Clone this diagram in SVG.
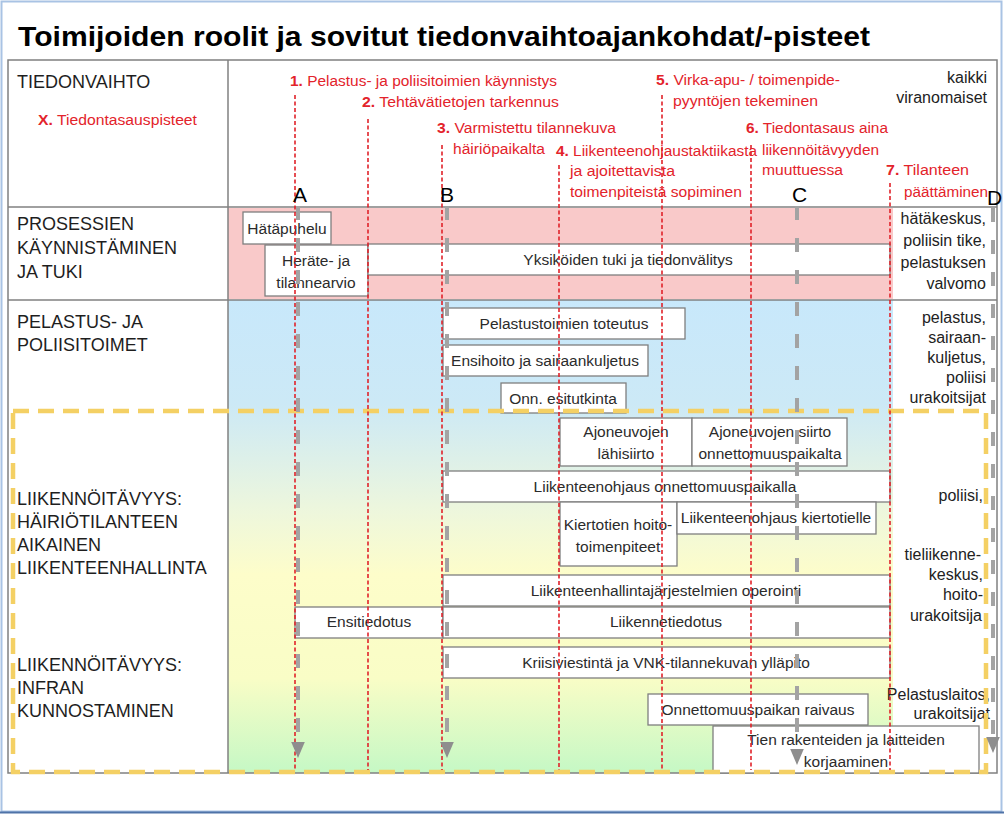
<svg xmlns="http://www.w3.org/2000/svg" width="1004" height="815" viewBox="0 0 1004 815">
<style>
text{font-family:"Liberation Sans",Arial,sans-serif}
.title{font-size:27px;font-weight:bold;fill:#000}
.lane{font-size:18px;fill:#1e1e1e}
.red{font-size:15.5px;fill:#e3232b}
.red tspan.n{font-weight:bold}
.box{fill:#fff;stroke:#7f7f7f;stroke-width:1.3}
.bt{font-size:15.5px;fill:#2b2b2b;text-anchor:middle}
.rt{font-size:16px;fill:#222;text-anchor:end}
.mil{stroke:#e0222a;stroke-width:1.6;stroke-dasharray:4 2.5;fill:none}
.gray{stroke:#a3a3a3;stroke-width:4;stroke-dasharray:14 18;fill:none}
.let{font-size:21px;fill:#000}
.grid{stroke:#808080;stroke-width:1.5;fill:none}
</style>
<defs>
<linearGradient id="bg" x1="0" y1="0" x2="0" y2="1">
<stop offset="0" stop-color="#c8e8fb"/>
<stop offset="0.22" stop-color="#cce9f6"/>
<stop offset="0.45" stop-color="#eef7dc"/>
<stop offset="0.58" stop-color="#fdfdca"/>
<stop offset="0.8" stop-color="#f9fdc6"/>
<stop offset="1" stop-color="#c5f8c5"/>
</linearGradient>
<marker id="ah" markerWidth="4" markerHeight="4" refX="2" refY="2" orient="auto" markerUnits="strokeWidth" viewBox="0 0 4 4">
<path d="M0,0.3 L4,2 L0,3.7 Z" fill="#8e8e8e"/>
</marker>
</defs>
<rect x="0" y="0" width="1004" height="815" fill="#fff"/>
<rect x="1.5" y="1.5" width="1000" height="810" fill="none" stroke="#a9c3e4" stroke-width="2"/>
<line x1="0" y1="812.5" x2="1004" y2="812.5" stroke="#4f73a8" stroke-width="2"/>

<text class="title" x="18" y="46" textLength="852" lengthAdjust="spacingAndGlyphs">Toimijoiden roolit ja sovitut tiedonvaihtoajankohdat/-pisteet</text>

<!-- backgrounds -->
<rect x="228" y="208" width="665" height="91" fill="#f9c9c9"/>
<rect x="228" y="300" width="665" height="473" fill="url(#bg)"/>

<!-- table grid -->
<g id="grid">
<rect class="grid" x="8" y="60" width="989" height="713"/>
<line class="grid" x1="228" y1="60" x2="228" y2="773"/>
<line class="grid" x1="8" y1="207" x2="997" y2="207"/>
<line class="grid" x1="8" y1="300" x2="997" y2="300"/>
</g>

<!-- lane labels -->
<g id="lane-tiedonvaihto">
<text class="lane" x="17" y="88">TIEDONVAIHTO</text>
<text class="red" x="38" y="125" textLength="159" lengthAdjust="spacingAndGlyphs"><tspan class="n">X.</tspan> Tiedontasauspisteet</text>
</g>
<g id="lane-prosessien">
<text class="lane" x="17" y="230">PROSESSIEN</text>
<text class="lane" x="17" y="254">KÄYNNISTÄMINEN</text>
<text class="lane" x="17" y="278">JA TUKI</text>
</g>
<g id="lane-pelastus">
<text class="lane" x="17" y="328">PELASTUS- JA</text>
<text class="lane" x="17" y="351">POLIISITOIMET</text>
</g>
<g id="lane-hairio">
<text class="lane" x="17" y="505">LIIKENNÖITÄVYYS:</text>
<text class="lane" x="17" y="528">HÄIRIÖTILANTEEN</text>
<text class="lane" x="17" y="551">AIKAINEN</text>
<text class="lane" x="17" y="574">LIIKENTEENHALLINTA</text>
</g>
<g id="lane-infra">
<text class="lane" x="17" y="671">LIIKENNÖITÄVYYS:</text>
<text class="lane" x="17" y="694">INFRAN</text>
<text class="lane" x="17" y="717">KUNNOSTAMINEN</text>
</g>

<!-- actor labels -->
<g id="actors">
<text class="rt" x="987" y="83">kaikki</text>
<text class="rt" x="987" y="103">viranomaiset</text>
<text class="rt" x="986" y="224">hätäkeskus,</text>
<text class="rt" x="986" y="246">poliisin tike,</text>
<text class="rt" x="986" y="268">pelastuksen</text>
<text class="rt" x="986" y="289">valvomo</text>
<text class="rt" x="986" y="323">pelastus,</text>
<text class="rt" x="986" y="343">sairaan-</text>
<text class="rt" x="986" y="363">kuljetus,</text>
<text class="rt" x="986" y="383">poliisi</text>
<text class="rt" x="986" y="403">urakoitsijat</text>
<text class="rt" x="983" y="501">poliisi,</text>
<text class="rt" x="981" y="560">tieliikenne-</text>
<text class="rt" x="983" y="580">keskus,</text>
<text class="rt" x="983" y="600">hoito-</text>
<text class="rt" x="982" y="621">urakoitsija</text>
<text class="rt" x="990" y="700">Pelastuslaitos,</text>
<text class="rt" x="990" y="719">urakoitsijat</text>
</g>

<!-- milestone labels -->
<g id="milestones">
<text class="red" x="290" y="86" textLength="267" lengthAdjust="spacingAndGlyphs"><tspan class="n">1.</tspan> Pelastus- ja poliisitoimien käynnistys</text>
<text class="red" x="362" y="107" textLength="197" lengthAdjust="spacingAndGlyphs"><tspan class="n">2.</tspan> Tehtävätietojen tarkennus</text>
<text class="red" x="437" y="133" textLength="179" lengthAdjust="spacingAndGlyphs"><tspan class="n">3.</tspan> Varmistettu tilannekuva</text>
<text class="red" x="453" y="154" textLength="92" lengthAdjust="spacingAndGlyphs">häiriöpaikalta</text>
<text class="red" x="556" y="156" textLength="201" lengthAdjust="spacingAndGlyphs"><tspan class="n">4.</tspan> Liikenteenohjaustaktiikasta</text>
<text class="red" x="570" y="176" textLength="105" lengthAdjust="spacingAndGlyphs">ja ajoitettavista</text>
<text class="red" x="570" y="197" textLength="172" lengthAdjust="spacingAndGlyphs">toimenpiteistä sopiminen</text>
<text class="red" x="656" y="85" textLength="184" lengthAdjust="spacingAndGlyphs"><tspan class="n">5.</tspan> Virka-apu- / toimenpide-</text>
<text class="red" x="673" y="106" textLength="145" lengthAdjust="spacingAndGlyphs">pyyntöjen tekeminen</text>
<text class="red" x="746" y="133" textLength="142" lengthAdjust="spacingAndGlyphs"><tspan class="n">6.</tspan> Tiedontasaus aina</text>
<text class="red" x="762" y="155" textLength="117" lengthAdjust="spacingAndGlyphs">liikennöitävyyden</text>
<text class="red" x="762" y="175" textLength="81" lengthAdjust="spacingAndGlyphs">muuttuessa</text>
<text class="red" x="886" y="175" textLength="83" lengthAdjust="spacingAndGlyphs"><tspan class="n">7.</tspan> Tilanteen</text>
<text class="red" x="904" y="197" textLength="84" lengthAdjust="spacingAndGlyphs">päättäminen</text>
</g>

<!-- task boxes -->
<g id="hatapuhelu"><rect class="box" x="243" y="212" width="88" height="32"/><text class="bt" x="287" y="234">Hätäpuhelu</text></g>
<g id="herate"><rect class="box" x="265" y="245" width="103" height="51"/><text class="bt" x="316" y="266">Heräte- ja</text><text class="bt" x="316" y="288">tilannearvio</text></g>
<g id="yksikoiden-tuki"><rect class="box" x="368" y="244" width="522" height="31"/><text class="bt" x="628" y="265">Yksiköiden tuki ja tiedonvälitys</text></g>
<g id="pelastustoimien"><rect class="box" x="443" y="308" width="242" height="31"/><text class="bt" x="564" y="329">Pelastustoimien toteutus</text></g>
<g id="ensihoito"><rect class="box" x="443" y="345" width="205" height="31"/><text class="bt" x="545" y="366">Ensihoito ja sairaankuljetus</text></g>
<g id="esitutkinta"><rect class="box" x="501" y="383" width="125" height="30"/><text class="bt" x="563" y="404">Onn. esitutkinta</text></g>
<g id="lahisiirto"><rect class="box" x="560" y="418" width="132" height="48"/><text class="bt" x="626" y="437">Ajoneuvojen</text><text class="bt" x="626" y="459">lähisiirto</text></g>
<g id="siirto"><rect class="box" x="692" y="418" width="155" height="48"/><text class="bt" x="770" y="437">Ajoneuvojen siirto</text><text class="bt" x="770" y="459">onnettomuuspaikalta</text></g>
<g id="ohjaus-onn"><rect class="box" x="443" y="471" width="447" height="31"/><text class="bt" x="665" y="492">Liikenteenohjaus onnettomuuspaikalla</text></g>
<g id="kiertotien-hoito"><rect class="box" x="560" y="502" width="117" height="64"/><text class="bt" x="618" y="530">Kiertotien hoito-</text><text class="bt" x="618" y="552">toimenpiteet</text></g>
<g id="ohjaus-kierto"><rect class="box" x="677" y="502" width="199" height="32"/><text class="bt" x="776" y="523">Liikenteenohjaus kiertotielle</text></g>
<g id="operointi"><rect class="box" x="443" y="575" width="447" height="31"/><text class="bt" x="666" y="596">Liikenteenhallintajärjestelmien operointi</text></g>
<g id="ensitiedotus"><rect class="box" x="295" y="607" width="148" height="31"/><text class="bt" x="369" y="627">Ensitiedotus</text></g>
<g id="liikennetiedotus"><rect class="box" x="443" y="607" width="447" height="31"/><text class="bt" x="666" y="627">Liikennetiedotus</text></g>
<g id="kriisiviestinta"><rect class="box" x="443" y="647" width="447" height="31"/><text class="bt" x="666" y="668">Kriisiviestintä ja VNK-tilannekuvan ylläpito</text></g>
<g id="raivaus"><rect class="box" x="648" y="694" width="220" height="31"/><text class="bt" x="758" y="715">Onnettomuuspaikan raivaus</text></g>
<g id="korjaaminen"><rect class="box" x="713" y="726" width="266" height="47"/><text class="bt" x="846" y="745">Tien rakenteiden ja laitteiden</text><text class="bt" x="846" y="767">korjaaminen</text></g>

<!-- yellow dashed region -->
<rect id="liikennointi-region" x="13" y="411" width="973" height="361" fill="none" stroke="#f4d064" stroke-width="4.5" stroke-dasharray="16 9"/>

<!-- connectors -->
<g id="connectors">
<line class="mil" x1="295" y1="95" x2="295" y2="770"/>
<line class="mil" x1="368" y1="119" x2="368" y2="770"/>
<line class="mil" x1="442" y1="145" x2="442" y2="770"/>
<line class="mil" x1="559" y1="165" x2="559" y2="770"/>
<line class="mil" x1="662" y1="95" x2="662" y2="770"/>
<line class="mil" x1="751" y1="145" x2="751" y2="770"/>
<line class="mil" x1="890" y1="183" x2="890" y2="770"/>
<line class="gray" x1="298" y1="206" x2="298" y2="750" marker-end="url(#ah)"/>
<line class="gray" x1="447" y1="206" x2="447" y2="750" marker-end="url(#ah)"/>
<line class="gray" x1="797" y1="206" x2="797" y2="757" marker-end="url(#ah)"/>
<line class="gray" x1="993" y1="208" x2="993" y2="745" marker-end="url(#ah)"/>
</g>

<g id="points">
<text class="let" x="293" y="202">A</text>
<text class="let" x="440" y="202">B</text>
<text class="let" x="792" y="202">C</text>
<text class="let" x="987" y="205">D</text>
</g>
</svg>
